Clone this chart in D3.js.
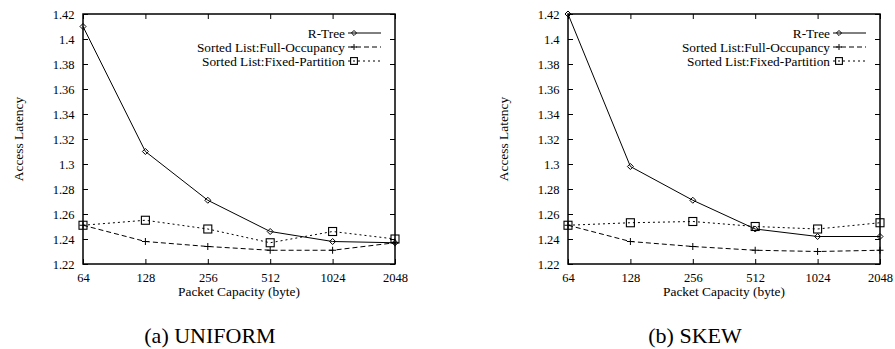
<!DOCTYPE html>
<html><head><meta charset="utf-8">
<script src="https://cdn.jsdelivr.net/npm/d3@7"></script>
<style>body{margin:0;background:#fff}svg{display:block}</style>
</head><body><svg id="c" width="895" height="349"></svg>
<script>
const capacities = ["64","128","256","512","1024","2048"];
const yTicks = [1.22,1.24,1.26,1.28,1.3,1.32,1.34,1.36,1.38,1.4,1.42];
const seriesNames = ["R-Tree","Sorted List:Full-Occupancy","Sorted List:Fixed-Partition"];
const uniformRTree = [1.410,1.310,1.271,1.246,1.238,1.237];
const uniformFull  = [1.251,1.238,1.234,1.231,1.231,1.237];
const uniformFixed = [1.251,1.255,1.248,1.237,1.246,1.240];
const skewRTree = [1.420,1.298,1.271,1.248,1.242,1.242];
const skewFull  = [1.251,1.238,1.234,1.231,1.230,1.231];
const skewFixed = [1.251,1.253,1.254,1.250,1.248,1.253];
const panels = [
  {caption:"(a) UNIFORM", capX:210, left:83, right:395, data:[uniformRTree,uniformFull,uniformFixed]},
  {caption:"(b) SKEW", capX:695, left:568, right:880, data:[skewRTree,skewFull,skewFixed]}
];
const styles = [{dash:null, marker:"diamond"},{dash:"5,3", marker:"plus"},{dash:"2,3", marker:"square"}];
const plotTop = 14, plotBottom = 264;
const FONT = "Liberation Serif";
const svg = d3.select("#c");

function drawMarker(g, type, x, y, s){
  s = s || 1;
  if(type==="diamond"){
    const r = 3*s;
    g.append("path").attr("d",`M${x},${y-r}L${x+r},${y}L${x},${y+r}L${x-r},${y}Z`).attr("fill","none").attr("stroke","#000").attr("stroke-width",1);
  } else if(type==="plus"){
    const r = 3.5*s;
    g.append("path").attr("d",`M${x-r},${y}H${x+r}M${x},${y-r}V${y+r}`).attr("stroke","#000").attr("stroke-width",1);
  } else {
    const r = 4*s;
    g.append("rect").attr("x",x-r).attr("y",y-r).attr("width",2*r).attr("height",2*r).attr("fill","none").attr("stroke","#000").attr("stroke-width",1.1);
  }
}
function txt(sel, size){ return sel.attr("font-size",size).attr("font-family",FONT).attr("fill","#000"); }

panels.forEach(p=>{
  const x = d3.scalePoint().domain(capacities).range([p.left,p.right]);
  const y = d3.scaleLinear().domain([1.22,1.42]).range([plotBottom,plotTop]);
  const g = svg.append("g");
  const ax = g.append("g").attr("transform",`translate(0,${plotBottom})`).call(d3.axisBottom(x).tickSize(-5).tickPadding(9));
  const ay = g.append("g").attr("transform",`translate(${p.left},0)`).call(d3.axisLeft(y).tickValues(yTicks).tickFormat(d3.format("")).tickSize(-5).tickPadding(8.5));
  const axT = g.append("g").attr("transform",`translate(0,${plotTop})`).call(d3.axisTop(x).tickSize(-5).tickFormat(""));
  const ayR = g.append("g").attr("transform",`translate(${p.right},0)`).call(d3.axisRight(y).tickValues(yTicks).tickSize(-5).tickFormat(""));
  [ax,ay,axT,ayR].forEach(a=>{a.attr("font-family",FONT); a.select(".domain").remove(); a.selectAll("line").attr("stroke","#000"); txt(a.selectAll("text"),12.5);});
  g.append("rect").attr("x",p.left).attr("y",plotTop).attr("width",p.right-p.left).attr("height",plotBottom-plotTop).attr("fill","none").attr("stroke","#000").attr("stroke-width",1.5);
  p.data.forEach((vals,i)=>{
    const line = d3.line().x((d,j)=>x(capacities[j])).y(d=>y(d));
    g.append("path").attr("d",line(vals)).attr("fill","none").attr("stroke","#000").attr("stroke-width",1).attr("stroke-dasharray",styles[i].dash);
    vals.forEach((v,j)=>drawMarker(g,styles[i].marker,x(capacities[j]),y(v)));
  });
  const ly = [33,47,61];
  seriesNames.forEach((n,i)=>{
    txt(g.append("text").attr("x",p.right-50).attr("y",ly[i]).attr("dy","0.35em").attr("text-anchor","end"),13.3).text(n);
    g.append("line").attr("x1",p.right-47).attr("x2",p.right-14).attr("y1",ly[i]).attr("y2",ly[i]).attr("stroke","#000").attr("stroke-width",1).attr("stroke-dasharray",styles[i].dash);
    drawMarker(g,styles[i].marker,p.right-41,ly[i],0.85);
  });
  txt(g.append("text").attr("transform",`translate(${p.left-65},${(plotTop+plotBottom)/2}) rotate(-90)`).attr("text-anchor","middle").attr("dy","0.35em"),13.4).text("Access Latency");
  txt(g.append("text").attr("x",(p.left+p.right)/2).attr("y",291).attr("text-anchor","middle").attr("dy","0.35em"),13.4).text("Packet Capacity (byte)");
  txt(g.append("text").attr("x",p.capX).attr("y",335).attr("text-anchor","middle").attr("dy","0.35em"),22).text(p.caption);
});
</script></body></html>
